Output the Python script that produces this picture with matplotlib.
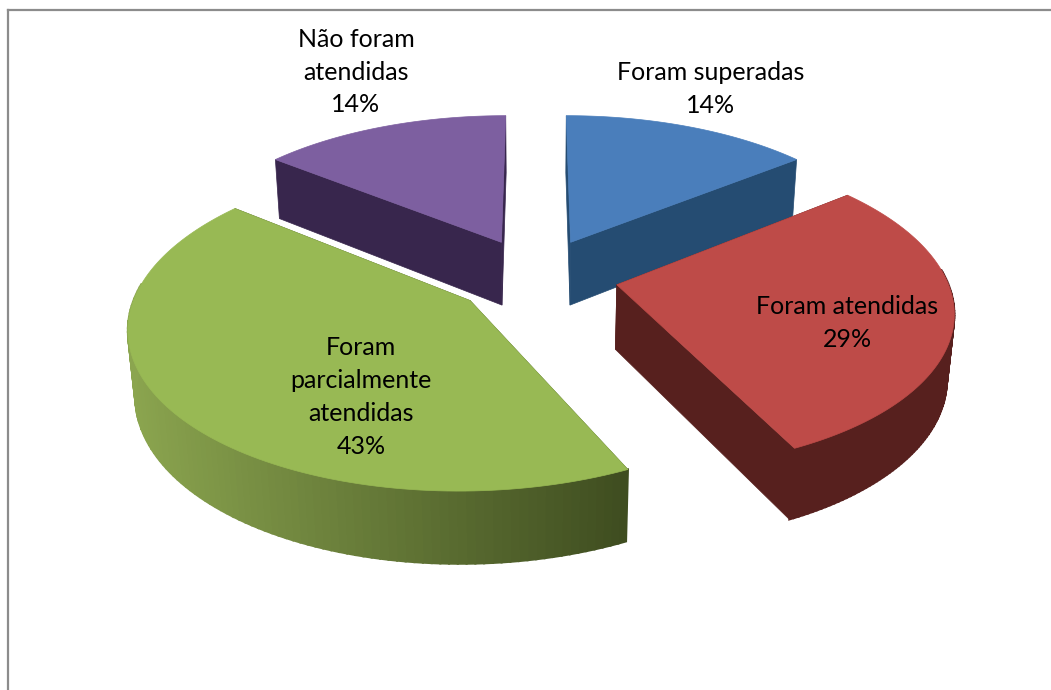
import numpy as np
import matplotlib
matplotlib.use("Agg")
import matplotlib.pyplot as plt
from matplotlib.patches import Polygon

# slices, clockwise from the top
labels = ['Foram superadas', 'Foram atendidas', 'Foram\nparcialmente\natendidas', 'Não foram\natendidas']
values = [14.3, 28.6, 42.8, 14.3]
percents = ['14%', '29%', '43%', '14%']

top_colors = ['#4a7ebb', '#be4b48', '#98b954', '#7d5fa0']
wall_colors = ['#254c72', '#57201e', '#3f5020', '#38264d']
# outer rim colours, from the left of a slice to the right
rim_colors = [('#2a5580', '#254c72'), ('#57201e', '#57201e'), ('#8ba54f', '#3f4d20'), ('#38264d', '#38264d')]
label_pos = [(711, 89), (847, 323), (361, 397), (356, 72)]

# view of the pie
cx, cy = 536, 276
radius = 329
explode = 0.25
thick = 0.225
elev = np.radians(28)
dist = 6.0


def project(x, y, z):
    depth = y * np.cos(elev) - z * np.sin(elev)
    up = y * np.sin(elev) + z * np.cos(elev)
    scale = dist / (dist + depth)
    return cx + radius * x * scale, cy - radius * up * scale


def hex_mix(c1, c2, t):
    a = np.array(matplotlib.colors.to_rgb(c1))
    b = np.array(matplotlib.colors.to_rgb(c2))
    return tuple(a + (b - a) * t)


plt.rcParams['font.family'] = ['Lato', 'DejaVu Sans']
fig = plt.figure(figsize=(10.51, 6.90), dpi=100)
ax = fig.add_axes([0, 0, 1, 1])
ax.set_xlim(0, 1051)
ax.set_ylim(690, 0)
ax.axis('off')

# frame of the chart, only left and top show
ax.plot([7.5, 7.5], [690, 9.5], color='#8c8c8c', lw=1.6)
ax.plot([7.5, 1051], [9.5, 9.5], color='#8c8c8c', lw=1.6)

fracs = np.array(values) / sum(values) * 2 * np.pi
ends = np.cumsum(fracs)
starts = ends - fracs

for i in [3, 0, 2, 1]:
    t = np.linspace(starts[i], ends[i], 120)
    mid = (starts[i] + ends[i]) / 2
    ox, oy = explode * np.sin(mid), explode * np.cos(mid)
    ax_x = ox + np.sin(t)
    ax_y = oy + np.cos(t)

    # radial walls
    for a in [starts[i], ends[i]]:
        ex, ey = ox + np.sin(a), oy + np.cos(a)
        p = [project(ox, oy, 0), project(ex, ey, 0), project(ex, ey, -thick), project(ox, oy, -thick)]
        ax.add_patch(Polygon(p, closed=True, fc=wall_colors[i], ec=wall_colors[i], lw=0.5))

    # outer rim in thin strips, so that it can carry a gradient
    sx_all = project(ax_x, ax_y, 0)[0]
    for k in range(len(t) - 1):
        if np.cos(t[k]) > 0.1:
            continue  # back of the rim, hidden by the top
        p = [project(ax_x[k], ax_y[k], 0), project(ax_x[k + 1], ax_y[k + 1], 0),
             project(ax_x[k + 1], ax_y[k + 1], -thick), project(ax_x[k], ax_y[k], -thick)]
        f = (sx_all[k] - sx_all.min()) / (sx_all.max() - sx_all.min())
        col = hex_mix(rim_colors[i][0], rim_colors[i][1], f)
        ax.add_patch(Polygon(p, closed=True, fc=col, ec=col, lw=1.5))

    # top face
    xs, ys = project(np.r_[ox, ax_x], np.r_[oy, ax_y], np.zeros(len(t) + 1))
    ax.add_patch(Polygon(np.c_[xs, ys], closed=True, fc=top_colors[i], ec=top_colors[i], lw=0.5))

for i in range(len(labels)):
    ax.text(label_pos[i][0], label_pos[i][1], labels[i] + '\n' + percents[i], ha='center', va='center',
            fontsize=18, color='black', linespacing=1.52)

fig.savefig('out.png', dpi=100)
